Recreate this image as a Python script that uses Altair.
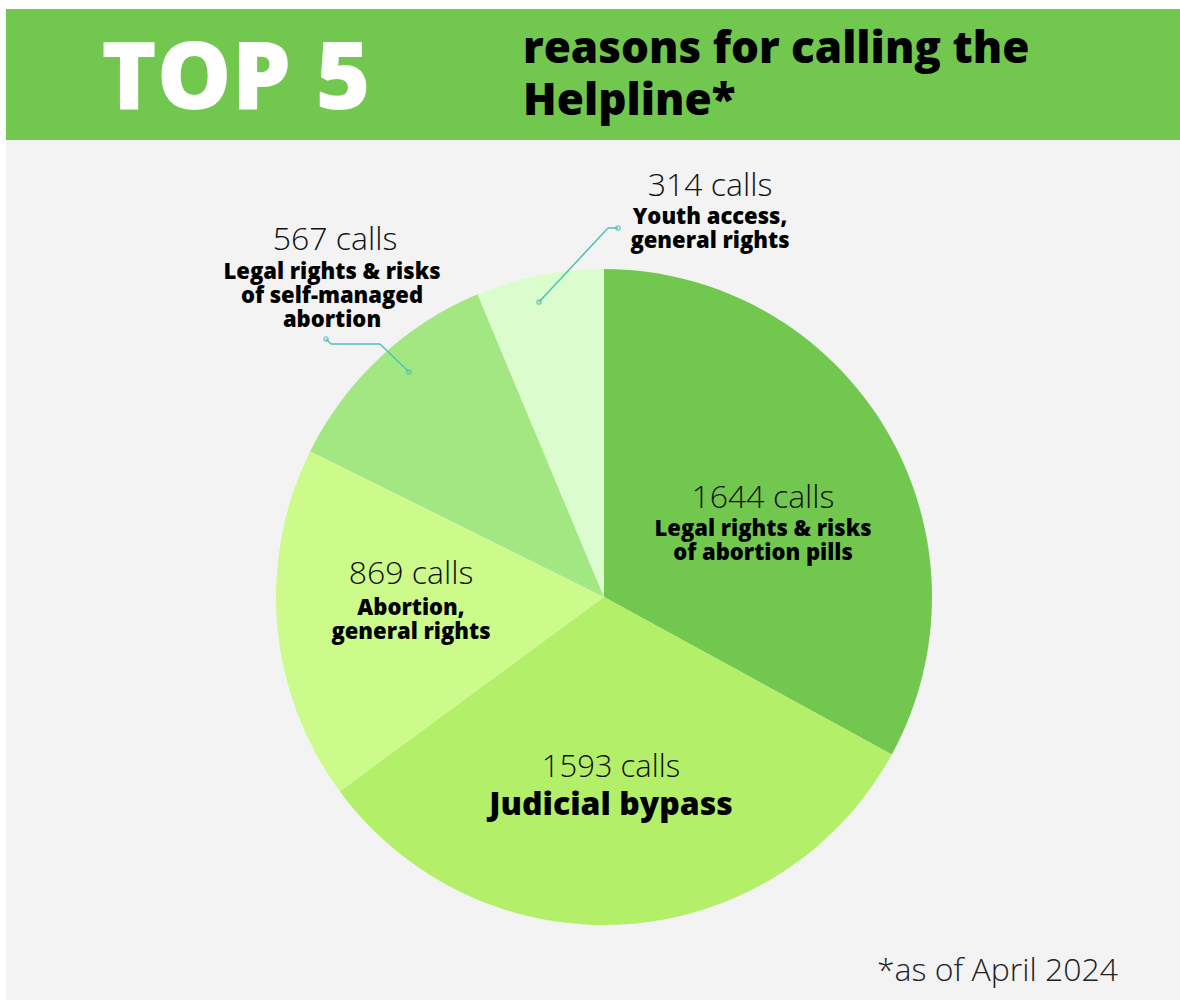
import altair as alt
import pandas as pd

# ---- data ----
categories = [
    "Legal rights & risks of abortion pills",
    "Judicial bypass",
    "Abortion, general rights",
    "Legal rights & risks of self-managed abortion",
    "Youth access, general rights",
]
calls = [1644, 1593, 869, 567, 314]
label_lines = [
    ["Legal rights & risks", "of abortion pills"],
    ["Judicial bypass"],
    ["Abortion,", "general rights"],
    ["Legal rights & risks", "of self-managed", "abortion"],
    ["Youth access,", "general rights"],
]
slice_colors = ["#72c84e", "#b4ef69", "#ccfa8b", "#a2e782", "#dbfdcd"]
title_big = "TOP 5"
title_small = ["reasons for calling the", "Helpline*"]
footnote = "*as of April 2024"

FONT = "Open Sans"
HEADER_GREEN = "#72c84e"
TEAL = "#4fc1b9"

df = pd.DataFrame({"category": categories, "calls": calls, "order": list(range(len(categories)))})
one = alt.Data(values=[{}])

base = alt.Chart(df)

header = alt.Chart(one).mark_rect(color=HEADER_GREEN).encode(
    x=alt.value(6), x2=alt.value(1180), y=alt.value(9), y2=alt.value(140))
panel = alt.Chart(one).mark_rect(color="#f3f3f3").encode(
    x=alt.value(6), x2=alt.value(1180), y=alt.value(140), y2=alt.value(1000))

pie = base.mark_arc(outerRadius=328, stroke=None).encode(
    theta=alt.Theta("calls:Q", stack=True),
    order=alt.Order("order:Q"),
    color=alt.Color("category:N", scale=alt.Scale(domain=categories, range=slice_colors), legend=None),
    x=alt.value(604), y=alt.value(597),
)

t_big = alt.Chart(one).mark_text(font=FONT, fontSize=94, fontWeight=800, color="white",
                                 align="center", baseline="alphabetic").encode(
    x=alt.value(236), y=alt.value(109), text=alt.value(title_big))
t_small = alt.Chart(one).mark_text(font=FONT, fontSize=44, fontWeight=800, color="black",
                                   align="left", baseline="alphabetic", lineHeight=52).encode(
    x=alt.value(523), y=alt.value(63), text=alt.value(title_small))
t_foot = alt.Chart(one).mark_text(font=FONT, fontSize=32, fontWeight=300, color="#222222",
                                  align="right", baseline="alphabetic").encode(
    x=alt.value(1118), y=alt.value(981), text=alt.value(footnote))

# label anchor positions (centre x, count baseline, name first baseline, name font size)
label_pos = [
    (763, 508, 536, 22),
    (611, 777, 815, 32),
    (411, 584, 615, 22),
    (332, 250, 279, 22),
    (710, 196, 224, 22),
]

label_layers = []
for i, (cx, ycount, yname, fs) in enumerate(label_pos):
    cnt = base.transform_filter(alt.datum.order == i).transform_calculate(
        lab=alt.datum.calls + " calls"
    ).mark_text(font=FONT, fontSize=32 if i != 1 else 31, fontWeight=300, color="#111111",
                align="center", baseline="alphabetic").encode(
        x=alt.value(cx + (3 if i == 3 else 0)), y=alt.value(ycount), text="lab:N")
    name = alt.Chart(one).mark_text(font=FONT, fontSize=fs, fontWeight=800, color="black",
                                    align="center", baseline="alphabetic", lineHeight=24).encode(
        x=alt.value(cx), y=alt.value(yname), text=alt.value(label_lines[i]))
    label_layers += [cnt, name]

def seg(x1, y1, x2, y2):
    return alt.Chart(one).mark_rule(color=TEAL, strokeWidth=1.5).encode(
        x=alt.value(x1), y=alt.value(y1), x2=alt.value(x2), y2=alt.value(y2))

def dot(x, y):
    return alt.Chart(one).mark_point(shape="circle", size=18, filled=False, color=TEAL,
                                     strokeWidth=1.5).encode(x=alt.value(x), y=alt.value(y))

leaders = [
    seg(326, 339, 331, 344), seg(331, 344, 380, 344), seg(380, 344, 409, 372),
    dot(326, 339), dot(409, 372),
    seg(618, 228, 608, 228), seg(608, 228, 539, 302),
    dot(618, 228), dot(539, 302),
]

chart = alt.layer(header, panel, pie, *leaders, t_big, t_small, t_foot, *label_layers).properties(
    width=1180, height=1000, padding=0, autosize=alt.AutoSizeParams(type="none"),
    background="white",
).configure_view(strokeWidth=0)

chart.save("out.html", embed_options={"renderer": "svg", "actions": False})
